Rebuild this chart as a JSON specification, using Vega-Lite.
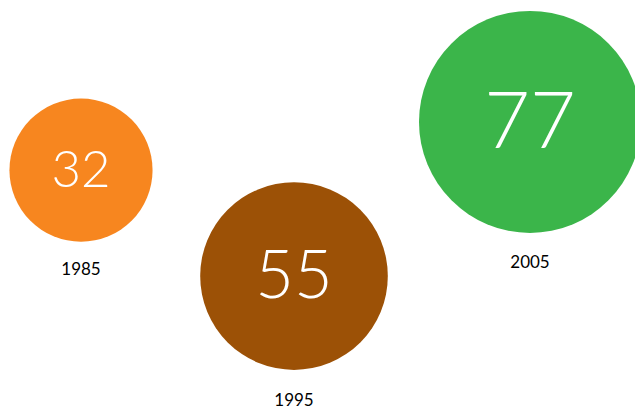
{
  "$schema": "https://vega.github.io/schema/vega-lite/v6.json",
  "width": 635,
  "height": 409,
  "autosize": {"type": "fit", "contains": "padding"},
  "padding": 0,
  "background": "white",
  "config": {"view": {"stroke": null}},
  "resolve": {"scale": {"size": "independent"}},
  "data": {"values": [
    {"year": 1985, "value": 32, "level": 4.16, "labelLevel": 6.60, "color": "#F7861F"},
    {"year": 1995, "value": 55, "level": 6.75, "labelLevel": 9.80, "color": "#9C5106"},
    {"year": 2005, "value": 77, "level": 2.98, "labelLevel": 6.43, "color": "#3BB54A"}
  ]},
  "layer": [
    {
      "mark": {"type": "circle", "opacity": 1},
      "encoding": {
        "x": {"field": "year", "type": "quantitative", "scale": {"domain": [1985, 1995, 2005], "range": [81, 294, 530], "nice": false, "zero": false}, "axis": null},
        "y": {"field": "level", "type": "quantitative", "scale": {"domain": [0, 10], "reverse": true, "nice": false}, "axis": null},
        "size": {"field": "value", "type": "quantitative", "scale": {"type": "linear", "domain": [0, 77], "range": [0, 49284], "nice": false, "zero": true}, "legend": null},
        "color": {"field": "color", "type": "nominal", "scale": null}
      }
    },
    {
      "mark": {"type": "text", "font": "Lato", "fontWeight": 300, "color": "white", "baseline": "middle", "align": "center", "dy": 2},
      "encoding": {
        "x": {"field": "year", "type": "quantitative"},
        "y": {"field": "level", "type": "quantitative"},
        "text": {"field": "value", "type": "quantitative"},
        "size": {"field": "value", "type": "quantitative", "scale": {"type": "sqrt", "domain": [0, 77], "range": [0, 79], "nice": false}, "legend": null}
      }
    },
    {
      "mark": {"type": "text", "font": "Lato", "fontSize": 17, "color": "black", "baseline": "middle", "align": "center"},
      "encoding": {
        "x": {"field": "year", "type": "quantitative"},
        "y": {"field": "labelLevel", "type": "quantitative"},
        "text": {"field": "year", "type": "nominal"}
      }
    }
  ]
}
